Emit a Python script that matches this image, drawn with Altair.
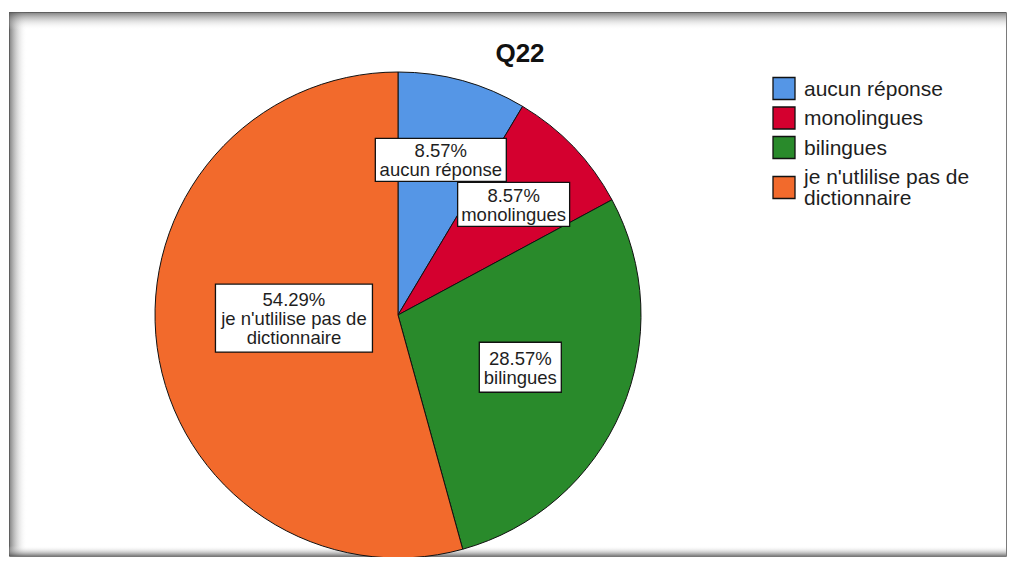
import altair as alt
import pandas as pd
import numpy as np

# ---------------- data ----------------
categories = ["aucun réponse", "monolingues", "bilingues", "je n'utlilise pas de dictionnaire"]
percents = [8.57, 8.57, 28.57, 54.29]
pct_labels = ["8.57%", "8.57%", "28.57%", "54.29%"]
name_lines = [["aucun réponse"], ["monolingues"], ["bilingues"], ["je n'utlilise pas de", "dictionnaire"]]
title_text = "Q22"

# ---------------- style ----------------
colors = ["#5596E6", "#D4002F", "#298A2B", "#F26A2C"]
FONT = "Liberation Sans"
W, H = 997, 544
CX, CY, R = 389, 303, 243
label_radius = [161, 160, 133, 105]
label_dy = [0, 0, 0, -11]
box_w = [131, 112, 82, 157]
box_h = [43, 44, 50, 68]
LAB_FS, LAB_LH = 18.5, 19
LEG_FS, LEG_LH = 21, 21
legend_x0, legend_sw = 764, 22
legend_rows = [76.5, 106, 135.5, 175.5]

xs = alt.Scale(domain=[0, W], range=[0, W], nice=False, zero=False)
ys = alt.Scale(domain=[0, H], range=[0, H], nice=False, zero=False)

# pie data
pie_df = pd.DataFrame({"category": categories, "value": percents, "idx": list(range(len(categories)))})

# label positions from slice mid-angles
total = sum(percents)
cum = np.cumsum(percents)
mids = (cum - np.array(percents) / 2) / total * 2 * np.pi
lab = pd.DataFrame({
    "cx": [CX + r * np.sin(a) for r, a in zip(label_radius, mids)],
    "cy": [CY - r * np.cos(a) + d for r, a, d in zip(label_radius, mids, label_dy)],
})
lab["lines"] = [[p] + n for p, n in zip(pct_labels, name_lines)]
lab["n"] = [len(l) for l in lab["lines"]]
lab["ty"] = lab["cy"] - (lab["n"] - 1) * LAB_LH / 2 + 1
lab["x1"] = lab["cx"] - np.array(box_w) / 2
lab["x2"] = lab["cx"] + np.array(box_w) / 2
lab["y1"] = lab["cy"] - np.array(box_h) / 2
lab["y2"] = lab["cy"] + np.array(box_h) / 2

# legend data
leg = pd.DataFrame({"category": categories, "yc": legend_rows, "lines": name_lines})
leg["n"] = [len(l) for l in name_lines]
leg["ty"] = leg["yc"] - (leg["n"] - 1) * LEG_LH / 2 + 1
leg["x1"] = legend_x0
leg["x2"] = legend_x0 + legend_sw
leg["y1"] = leg["yc"] - legend_sw / 2
leg["y2"] = leg["yc"] + legend_sw / 2
leg["tx"] = legend_x0 + legend_sw + 9

# frame shading bands (decoration)
dark = "rgba(80,80,80,0.75)"
clear = "rgba(255,255,255,0)"
def band(df, x1, x2, y1, y2):
    g = alt.Gradient(gradient="linear",
                     stops=[alt.GradientStop(color=dark, offset=0), alt.GradientStop(color=clear, offset=1)],
                     x1=x1, x2=x2, y1=y1, y2=y2)
    return alt.Chart(df).mark_rect(fill=g, strokeWidth=0).encode(
        x=alt.X("x:Q", scale=xs, axis=None), x2="x2:Q",
        y=alt.Y("y:Q", scale=ys, axis=None), y2="y2:Q")

left_band = band(pd.DataFrame({"x": [0], "x2": [18], "y": [0], "y2": [H]}), 0, 1, 0, 0)
top_band = band(pd.DataFrame({"x": [0], "x2": [W], "y": [0], "y2": [18]}), 0, 0, 0, 1)
bot_band = band(pd.DataFrame({"x": [0], "x2": [W], "y": [H - 10], "y2": [H]}), 0, 0, 1, 0)

pie = alt.Chart(pie_df).mark_arc(outerRadius=R, stroke="#111111", strokeWidth=1).encode(
    theta=alt.Theta("value:Q", stack=True),
    color=alt.Color("category:N", scale=alt.Scale(domain=categories, range=colors), legend=None),
    order=alt.Order("idx:Q"),
    x=alt.value(CX), y=alt.value(CY),
)

boxes = alt.Chart(lab).mark_rect(fill="white", stroke="#111111", strokeWidth=1.3).encode(
    x=alt.X("x1:Q", scale=xs, axis=None), x2="x2:Q",
    y=alt.Y("y1:Q", scale=ys, axis=None), y2="y2:Q",
)

btext = alt.Chart(lab).mark_text(font=FONT, fontSize=LAB_FS, lineHeight=LAB_LH, align="center",
                                  baseline="middle", color="#1e1e1e").encode(
    x=alt.X("cx:Q", scale=xs, axis=None),
    y=alt.Y("ty:Q", scale=ys, axis=None),
    text=alt.Text("lines:N"),
)

lsw = alt.Chart(leg).mark_rect(stroke="#111111", strokeWidth=1.3).encode(
    x=alt.X("x1:Q", scale=xs, axis=None), x2="x2:Q",
    y=alt.Y("y1:Q", scale=ys, axis=None), y2="y2:Q",
    color=alt.Color("category:N", scale=alt.Scale(domain=categories, range=colors), legend=None),
)

ltext = alt.Chart(leg).mark_text(font=FONT, fontSize=LEG_FS, lineHeight=LEG_LH, align="left",
                                  baseline="middle", color="#1e1e1e").encode(
    x=alt.X("tx:Q", scale=xs, axis=None),
    y=alt.Y("ty:Q", scale=ys, axis=None),
    text=alt.Text("lines:N"),
)

title_df = pd.DataFrame({"t": [title_text], "x": [511], "y": [50]})
title = alt.Chart(title_df).mark_text(font=FONT, fontSize=26, fontWeight="bold", align="center",
                                       baseline="alphabetic", color="#111111").encode(
    x=alt.X("x:Q", scale=xs, axis=None),
    y=alt.Y("y:Q", scale=ys, axis=None),
    text="t:N",
)

chart = alt.layer(left_band, top_band, bot_band, pie, boxes, btext, lsw, ltext, title).properties(
    width=W, height=H,
    padding={"left": 1, "top": 4, "right": 1, "bottom": 1},
    autosize=alt.AutoSizeParams(type="none"),
    background="white",
).configure_view(stroke="#7a7a7a", strokeWidth=1)

chart.save("out.html", embed_options={"renderer": "svg", "actions": False})
